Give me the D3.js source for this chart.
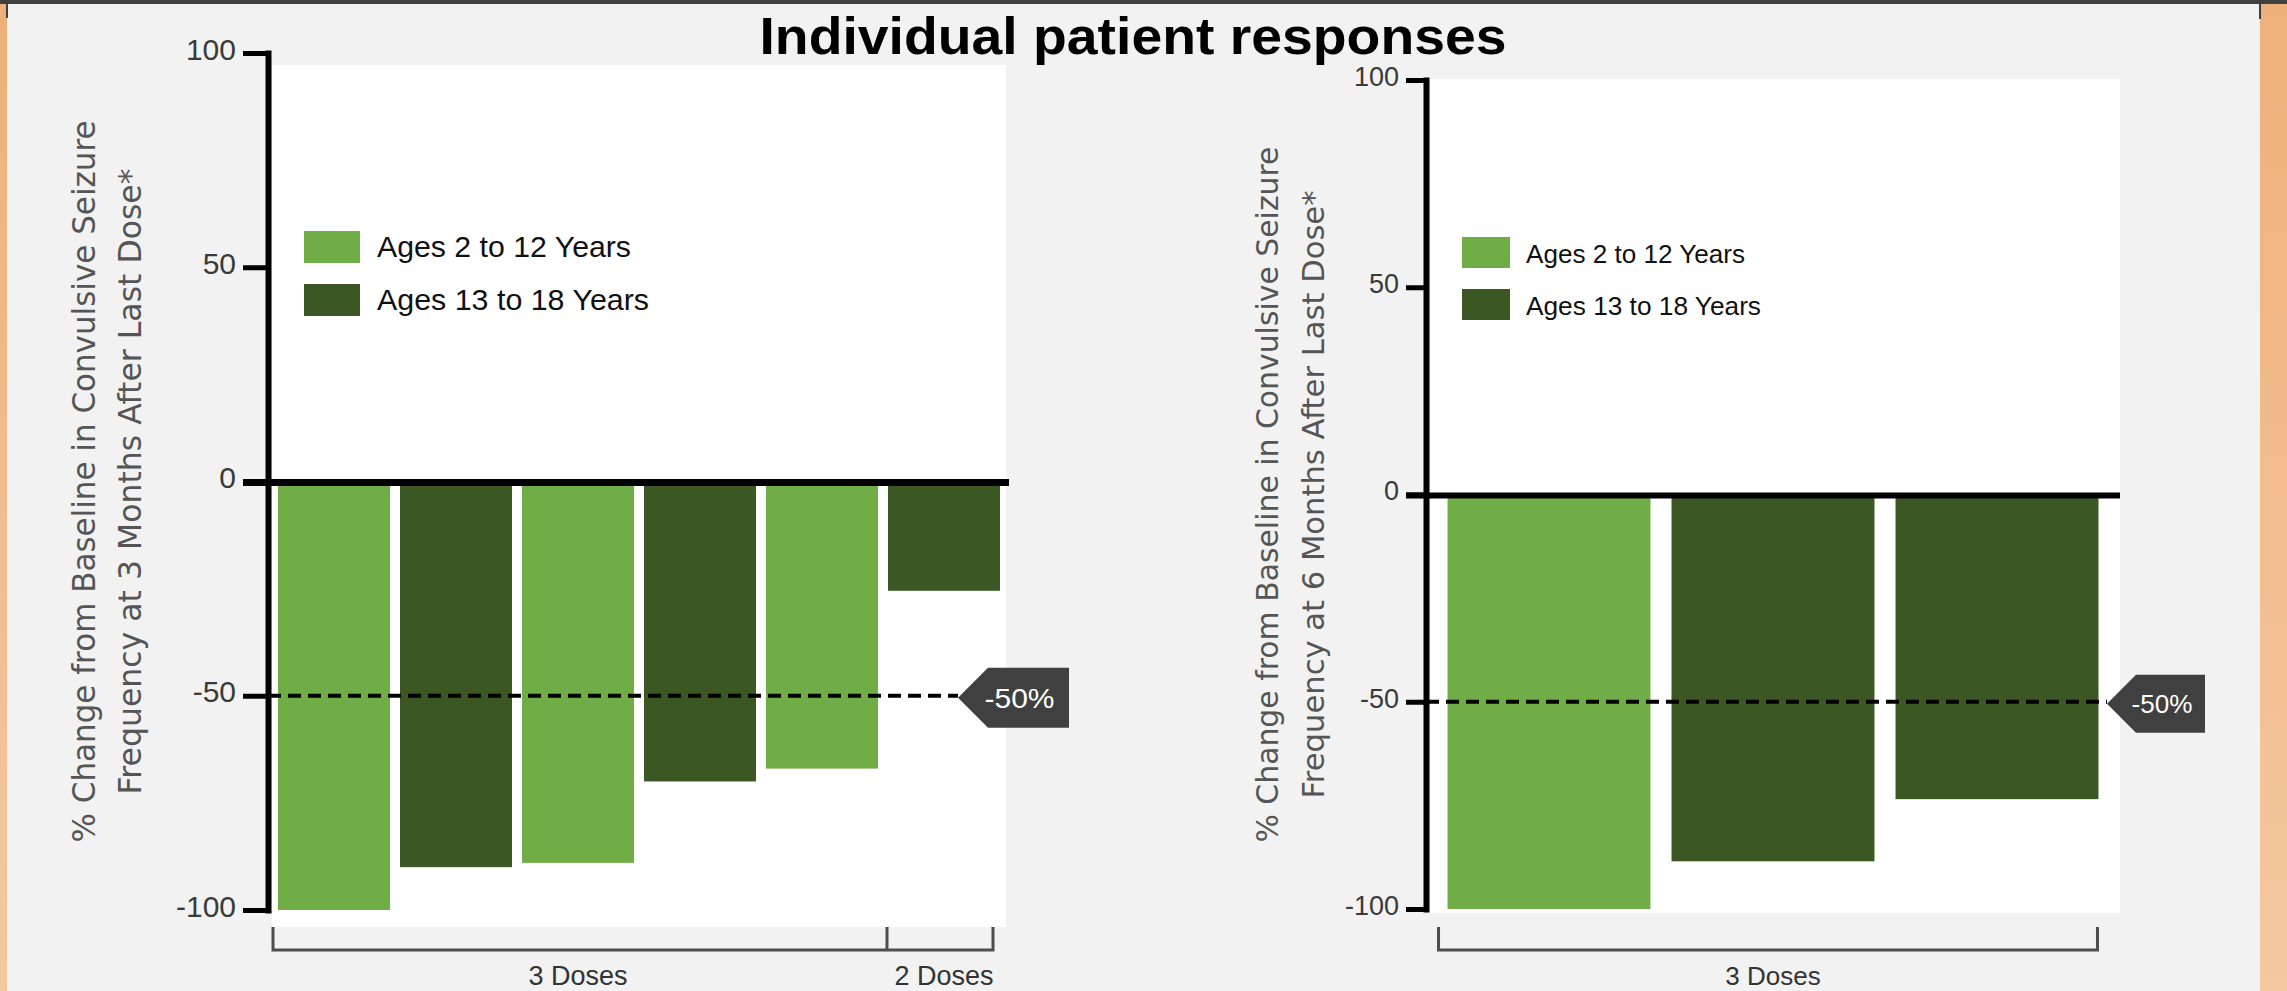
<!DOCTYPE html>
<html><head><meta charset="utf-8">
<script src="https://cdn.jsdelivr.net/npm/d3@7"></script>
<style>html,body{margin:0;padding:0;background:#f2f2f2;overflow:hidden}</style>
</head><body><svg id="c" width="2287" height="991"></svg>
<script>
// ---------------- DATA ----------------
const chartTitle = "Individual patient responses";
const ageGroups = ["Ages 2 to 12 Years", "Ages 13 to 18 Years"];
const groupColors = ["#70ad47", "#3a5724"];
const yTicks = [100, 50, 0, -50, -100];
const threshold = -50;
const thresholdLabel = "-50%";

const leftPatients = ["P1", "P2", "P3", "P4", "P5", "P6"];
const leftValues = [-100, -90, -89, -70, -67, -25.5];
const leftAgeGroup = [0, 1, 0, 1, 0, 1];
const leftDoses = ["3 Doses", "3 Doses", "3 Doses", "3 Doses", "3 Doses", "2 Doses"];
const leftYTitle = ["% Change from Baseline in Convulsive Seizure", "Frequency at 3 Months After Last Dose*"];

const rightPatients = ["P1", "P2", "P3"];
const rightValues = [-100, -88.5, -73.5];
const rightAgeGroup = [0, 1, 1];
const rightDoses = ["3 Doses", "3 Doses", "3 Doses"];
const rightYTitle = ["% Change from Baseline in Convulsive Seizure", "Frequency at 6 Months After Last Dose*"];

// ---------------- STYLE / LAYOUT ----------------
const FONT_N = "'Liberation Sans Narrow','Liberation Sans',Arial,sans-serif";
const FONT_G = "'DejaVu Sans','Open Sans',sans-serif";

const svg = d3.select("#c");
const W = 2287, H = 991;

// frame decorations
const defs = svg.append("defs");
const grad = defs.append("linearGradient").attr("id", "og").attr("x1", 0).attr("y1", 0).attr("x2", 0).attr("y2", 1);
grad.append("stop").attr("offset", "0%").attr("stop-color", "#eeb07a");
grad.append("stop").attr("offset", "100%").attr("stop-color", "#f5c8a0");
svg.append("rect").attr("x", 0).attr("y", 0).attr("width", W).attr("height", H).attr("fill", "#f2f2f2");
svg.append("rect").attr("x", 0).attr("y", 0).attr("width", 7).attr("height", H).attr("fill", "url(#og)");
svg.append("rect").attr("x", 2260).attr("y", 0).attr("width", 27).attr("height", H).attr("fill", "url(#og)");
svg.append("rect").attr("x", 0).attr("y", 0).attr("width", W).attr("height", 4).attr("fill", "#404040");
svg.append("rect").attr("x", 6).attr("y", 0).attr("width", 2).attr("height", 18).attr("fill", "#404040");
svg.append("rect").attr("x", 2259).attr("y", 0).attr("width", 2).attr("height", 19).attr("fill", "#404040");

svg.append("text").attr("x", 1133).attr("y", 54).attr("text-anchor", "middle")
  .attr("font-family", FONT_N).attr("font-weight", "bold").attr("font-size", 52)
  .attr("textLength", 747).attr("lengthAdjust", "spacingAndGlyphs")
  .attr("fill", "#000").text(chartTitle);

const charts = [
  {
    patients: leftPatients, values: leftValues, ages: leftAgeGroup, doses: leftDoses, yTitle: leftYTitle,
    axisX: 268, yTop: 53, yBottom: 910, bg: [272, 65, 1006, 927],
    barRange: [273, 1005], padIn: 0.082, padOut: 0.041,
    tickLen: 25, tickFont: 30, zeroEnd: 1009, zeroW: 7,
    tag: { tipX: 958, flatX: 988, rightX: 1069, h: 60, font: 28, tl: 70 },
    titleX: [95, 141], titleFont: 32, titleLen: [722, 626],
    legend: { x: 304, y: 231, w: 56, h: 32, gap: 53, tx: 377, font: 30, base: 26, tl: [254, 272] },
    bracket: { top: 927, bottom: 950, inL: 5, inR: 7, font: 27, textY: 985 }
  },
  {
    patients: rightPatients, values: rightValues, ages: rightAgeGroup, doses: rightDoses, yTitle: rightYTitle,
    axisX: 1426, yTop: 80, yBottom: 909, bg: [1428, 79, 2120, 913],
    barRange: [1437, 2109], padIn: 0.094, padOut: 0.047,
    tickLen: 20, tickFont: 27, zeroEnd: 2120, zeroW: 6,
    tag: { tipX: 2107, flatX: 2136, rightX: 2205, h: 58, font: 25, tl: 61 },
    titleX: [1278, 1324], titleFont: 31, titleLen: [696, 608],
    legend: { x: 1462, y: 237, w: 48, h: 31, gap: 52, tx: 1526, font: 26, base: 26, tl: [219, 235] },
    bracket: { top: 927, bottom: 950, inL: 9, inR: 1, font: 26, textY: 985 }
  }
];

charts.forEach(c => {
  const g = svg.append("g");
  const y = d3.scaleLinear().domain([100, -100]).range([c.yTop, c.yBottom]);
  const x = d3.scaleBand().domain(c.patients).range(c.barRange).paddingInner(c.padIn).paddingOuter(c.padOut);
  const color = d3.scaleOrdinal().domain([0, 1]).range(groupColors);

  // plot background
  g.append("rect").attr("x", c.bg[0]).attr("y", c.bg[1]).attr("width", c.bg[2] - c.bg[0]).attr("height", c.bg[3] - c.bg[1]).attr("fill", "#fff");

  // bars
  g.selectAll("rect.bar").data(c.values).join("rect").attr("class", "bar")
    .attr("x", (d, i) => x(c.patients[i]))
    .attr("width", x.bandwidth())
    .attr("y", d => y(Math.max(0, d)))
    .attr("height", d => Math.abs(y(d) - y(0)))
    .attr("fill", (d, i) => color(c.ages[i]));

  // threshold dashed line
  g.append("line").attr("x1", c.axisX).attr("x2", c.tag.tipX)
    .attr("y1", y(threshold)).attr("y2", y(threshold))
    .attr("stroke", "#000").attr("stroke-width", 4).attr("stroke-dasharray", "13,7");

  // threshold tag
  const ty = y(threshold) + 2, hh = c.tag.h / 2;
  g.append("path").attr("d", `M${c.tag.tipX},${ty} L${c.tag.flatX},${ty - hh} H${c.tag.rightX} V${ty + hh} H${c.tag.flatX} Z`)
    .attr("fill", "#404040");
  g.append("text").attr("x", (c.tag.tipX + c.tag.rightX) / 2 + 6).attr("y", ty + c.tag.font * 0.36)
    .attr("text-anchor", "middle").attr("font-family", FONT_N).attr("font-size", c.tag.font)
    .attr("textLength", c.tag.tl).attr("lengthAdjust", "spacingAndGlyphs")
    .attr("fill", "#fff").text(thresholdLabel);

  // y axis
  const ax = g.append("g").attr("transform", `translate(${c.axisX},0)`)
    .call(d3.axisLeft(y).tickValues(yTicks).tickSize(c.tickLen).tickSizeOuter(0).tickPadding(7).tickFormat(d => String(d)));
  ax.select(".domain").attr("stroke", "#000").attr("stroke-width", 6).attr("stroke-linecap", "square");
  ax.selectAll(".tick line").attr("stroke", "#000").attr("stroke-width", 5);
  ax.selectAll(".tick text").attr("font-family", FONT_N).attr("font-size", c.tickFont)
    .attr("fill", "#3a3a3a").attr("dy", "0.2em");

  // zero line
  g.append("line").attr("x1", c.axisX - c.tickLen).attr("x2", c.zeroEnd)
    .attr("y1", y(0) + 1).attr("y2", y(0) + 1).attr("stroke", "#000").attr("stroke-width", c.zeroW);

  // y title
  const yc = (c.yTop + c.yBottom) / 2;
  c.yTitle.forEach((t, i) => {
    g.append("text").attr("transform", `translate(${c.titleX[i]},${yc}) rotate(-90)`)
      .attr("text-anchor", "middle").attr("font-family", FONT_G).attr("font-size", c.titleFont)
      .attr("textLength", c.titleLen[i]).attr("lengthAdjust", "spacingAndGlyphs")
      .attr("fill", "#555").text(t);
  });

  // legend
  ageGroups.forEach((lab, i) => {
    const ly = c.legend.y + i * c.legend.gap;
    g.append("rect").attr("x", c.legend.x).attr("y", ly).attr("width", c.legend.w).attr("height", c.legend.h)
      .attr("fill", groupColors[i]);
    g.append("text").attr("x", c.legend.tx).attr("y", ly + c.legend.base)
      .attr("font-family", FONT_N).attr("font-size", c.legend.font)
      .attr("textLength", c.legend.tl[i]).attr("lengthAdjust", "spacingAndGlyphs")
      .attr("fill", "#111").text(lab);
  });

  // dose brackets
  const runs = [];
  c.doses.forEach((d, i) => {
    if (runs.length && runs[runs.length - 1].label === d) runs[runs.length - 1].end = i;
    else runs.push({ label: d, start: i, end: i });
  });
  const b = c.bracket;
  const firstX = x(c.patients[0]) - b.inL;
  const lastX = x(c.patients[c.patients.length - 1]) + x.bandwidth() - b.inR;
  let p = `M${firstX},${b.top} V${b.bottom} H${lastX} V${b.top}`;
  runs.slice(1).forEach(r => { const bx = x(c.patients[r.start]) - 1; p += ` M${bx},${b.top} V${b.bottom}`; });
  g.append("path").attr("d", p).attr("fill", "none").attr("stroke", "#4d4d4d").attr("stroke-width", 3);
  runs.forEach(r => {
    const cx = (x(c.patients[r.start]) + x(c.patients[r.end]) + x.bandwidth()) / 2;
    g.append("text").attr("x", cx).attr("y", b.textY).attr("text-anchor", "middle")
      .attr("font-family", FONT_N).attr("font-size", b.font).attr("fill", "#333").text(r.label);
  });
});
</script>
</body></html>
